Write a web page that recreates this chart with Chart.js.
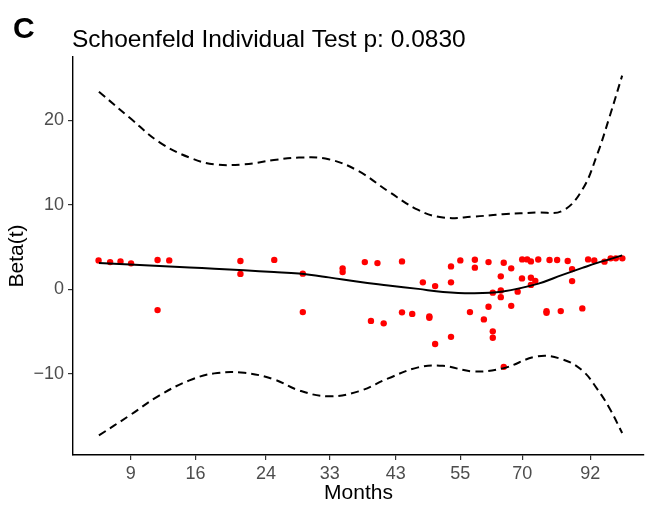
<!DOCTYPE html>
<html>
<head>
<meta charset="utf-8">
<script src="https://cdn.jsdelivr.net/npm/chart.js@4/dist/chart.umd.min.js"></script>
<style>
  html, body { margin: 0; padding: 0; background: #fff; }
  #wrap { width: 648px; height: 507px; }
</style>
</head>
<body>
<div id="wrap"><canvas id="zphChart" width="648" height="507"></canvas></div>
<script>
// x axis is the transformed time scale; tick labels show months
const xTickPos = [1, 1.986, 3.062, 4.033, 5.041, 6.024, 6.97, 8.005];
const xTickLabels = ["9", "16", "24", "33", "43", "55", "70", "92"];
const yTicks = [-10, 0, 10, 20];

// smoothed beta(t) and its confidence band
const curveX = [0.515, 0.985, 1.44, 1.895, 2.274, 2.729, 3.183, 3.563, 4.017, 4.472, 4.927,
  5.382, 5.761, 6.216, 6.671, 7.202, 7.581, 7.884, 8.112, 8.294, 8.491];
const fitBeta = [3.11, 2.93, 2.77, 2.6, 2.45, 2.25, 2.06, 1.87, 1.42, 0.89, 0.47,
  0.06, -0.3, -0.45, -0.24, 0.65, 1.72, 2.54, 3.14, 3.55, 4.02];
const upperBand = [23.4, 20.3, 17.4, 15.6, 14.8, 14.8, 15.3, 15.6, 15.4, 14.0, 11.6,
  9.4, 8.5, 8.6, 8.9, 9.1, 9.3, 11.8, 16.0, 20.3, 25.3];
const lowerBand = [-17.28, -14.91, -12.54, -10.77, -9.94, -9.88, -10.65, -11.95, -12.66, -12.07, -10.53,
  -9.23, -9.05, -9.7, -9.35, -7.93, -8.28, -9.6, -11.8, -14.0, -17.0];

// scaled Schoenfeld residuals
const residX = [0.51, 0.686, 0.844, 1.005, 1.409, 1.587, 1.409, 2.672, 2.672, 3.188,
  3.623, 3.623, 4.23, 4.23, 4.568, 4.761, 5.135, 5.453, 5.64, 5.882,
  5.882, 6.024, 6.246, 6.246, 6.454, 6.686, 6.8, 6.641, 6.519, 6.641,
  6.641, 6.898, 6.967, 7.043, 7.1, 7.212, 7.384, 7.5, 7.661, 7.728,
  7.972, 8.066, 8.222, 8.316, 8.395, 8.494, 6.964, 7.1, 7.167, 7.1,
  7.728, 5.135, 5.291, 5.552, 4.662, 4.856, 6.171, 6.454, 6.383, 6.519,
  6.519, 5.882, 5.64, 6.686, 6.8, 7.338, 7.338, 7.555, 7.884, 5.552];
const residY = [3.43, 3.23, 3.31, 3.08, 3.47, 3.43, -2.45, 3.35, 1.83, 3.49,
  1.86, -2.69, 2.49, 2.05, 3.23, 3.11, 3.31, 0.83, 0.39, 2.72,
  0.83, 3.43, 3.51, 2.57, 3.23, 3.16, 2.49, 1.54, -0.39, -0.14,
  -0.92, -0.27, 3.55, 3.55, 3.31, 3.53, 3.47, 3.47, 3.35, 2.4,
  3.55, 3.41, 3.28, 3.67, 3.67, 3.67, 1.3, 1.38, 1.01, 0.53,
  0.98, -2.72, -2.9, -3.2, -3.73, -4.02, -2.69, -2.05, -3.55, -4.97,
  -5.72, -5.62, -6.47, -9.17, -1.95, -2.58, -2.78, -2.57, -2.25, -3.35];

const toPoints = (xs, ys) => xs.map((x, i) => ({ x: x, y: ys[i] }));

// panel letter and plot title
const headerText = {
  id: "headerText",
  afterDraw(chart) {
    const ctx = chart.ctx;
    ctx.save();
    ctx.fillStyle = "#000";
    ctx.textBaseline = "alphabetic";
    ctx.font = "bold 30px 'Liberation Sans'";
    ctx.fillText("C", 13, 38);
    ctx.font = "24.5px 'Liberation Sans'";
    ctx.fillText("Schoenfeld Individual Test p: 0.0830", 72, 47);
    ctx.restore();
  },
};

const ctx = document.getElementById("zphChart").getContext("2d");
new Chart(ctx, {
  type: "scatter",
  data: {
    datasets: [
      {
        label: "Beta(t)",
        data: toPoints(curveX, fitBeta),
        showLine: true,
        borderColor: "#000",
        borderWidth: 2,
        pointRadius: 0,
        tension: 0.4,
      },
      {
        label: "Upper",
        data: toPoints(curveX, upperBand),
        showLine: true,
        borderColor: "#000",
        borderWidth: 2,
        borderDash: [8, 5],
        pointRadius: 0,
        tension: 0.4,
      },
      {
        label: "Lower",
        data: toPoints(curveX, lowerBand),
        showLine: true,
        borderColor: "#000",
        borderWidth: 2,
        borderDash: [8, 5],
        pointRadius: 0,
        tension: 0.4,
      },
      {
        label: "Residuals",
        data: toPoints(residX, residY),
        backgroundColor: "#ff0000",
        borderWidth: 0,
        pointRadius: 3.2,
      },
    ],
  },
  options: {
    responsive: false,
    animation: false,
    layout: { padding: { top: 57, left: 0, right: 1, bottom: 0 } },
    plugins: {
      legend: { display: false },
      tooltip: { enabled: false },
    },
    scales: {
      x: {
        type: "linear",
        min: 0.12,
        max: 8.824,
        afterFit: (scale) => { scale.height = 52; },
        afterBuildTicks: (scale) => {
          scale.ticks = xTickPos.map((v) => ({ value: v }));
        },
        ticks: {
          autoSkip: false,
          maxRotation: 0,
          padding: 3,
          color: "#4d4d4d",
          font: { family: "'Liberation Sans'", size: 18 },
          callback: (value, index) => xTickLabels[index],
        },
        grid: { drawOnChartArea: false, tickLength: 5, color: "#333", lineWidth: 1.2 },
        border: { display: true, color: "#000", width: 1.4 },
        title: {
          display: true,
          text: "Months",
          color: "#000",
          font: { family: "'Liberation Sans'", size: 21 },
          padding: { top: 0, bottom: 1 },
        },
      },
      y: {
        min: -19.6,
        max: 27.5,
        afterFit: (scale) => { scale.width = 73; },
        afterBuildTicks: (scale) => {
          scale.ticks = yTicks.map((v) => ({ value: v }));
        },
        ticks: {
          padding: 4,
          color: "#4d4d4d",
          font: { family: "'Liberation Sans'", size: 18 },
          callback: (value) => String(value).replace("-", "\u2212"),
        },
        grid: { drawOnChartArea: false, tickLength: 5, color: "#333", lineWidth: 1.2 },
        border: { display: true, color: "#000", width: 1.4 },
        title: {
          display: true,
          text: "Beta(t)",
          color: "#000",
          font: { family: "'Liberation Sans'", size: 21 },
          padding: { top: 5, bottom: 0 },
        },
      },
    },
  },
  plugins: [headerText],
});
</script>
</body>
</html>
